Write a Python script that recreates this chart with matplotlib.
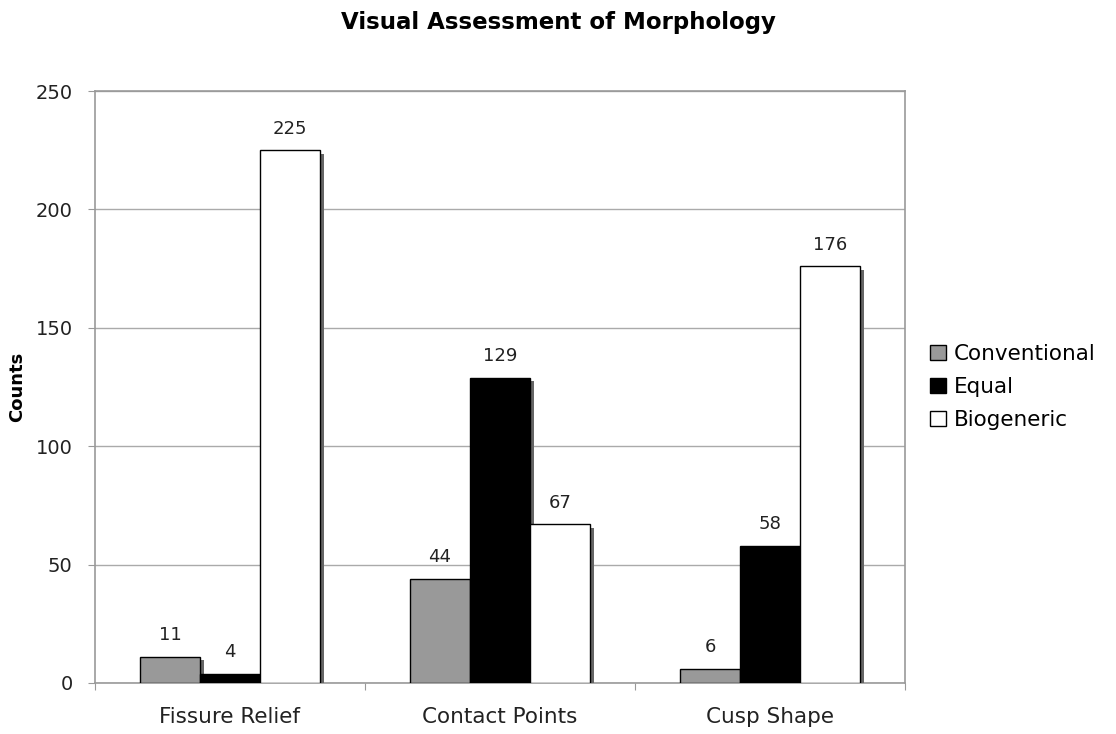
import matplotlib
matplotlib.use("Agg")
import matplotlib.pyplot as plt
import matplotlib.patheffects as pe
import numpy as np

categories = ["Fissure Relief", "Contact Points", "Cusp Shape"]
series = ["Conventional", "Equal", "Biogeneric"]
conventional = [11, 44, 6]
equal = [4, 129, 58]
biogeneric = [225, 67, 176]
colors = ["#999999", "#000000", "#ffffff"]

fig = plt.figure(figsize=(11.16, 7.34), dpi=100)
ax = fig.add_axes([0.0851, 0.0695, 0.7258, 0.8065])

x = np.arange(len(categories))
w = 0.222
shadow = [pe.SimplePatchShadow(offset=(3, -2.5), shadow_rgbFace="#666666", alpha=1.0), pe.Normal()]
for i, (vals, name) in enumerate(zip([conventional, equal, biogeneric], series)):
    bars = ax.bar(x + (i - 1) * w, vals, w, color=colors[i], edgecolor="black",
                  linewidth=1.0, label=name, zorder=3)
    for b in bars:
        b.set_path_effects(shadow)
    for xi, v in zip(x + (i - 1) * w, vals):
        ax.annotate(str(v), (xi, v), xytext=(0, 9), textcoords="offset points",
                    ha="center", va="bottom", fontsize=13, color="#222222")

ax.set_xlim(-0.5, 2.5)
ax.set_ylim(0, 250)
ax.set_yticks(np.arange(0, 251, 50))
ax.yaxis.grid(True, color="#aaaaaa", linewidth=1)
ax.set_axisbelow(True)

ax.set_xticks([-0.5, 0.5, 1.5, 2.5])
ax.set_xticklabels([])
ax.set_xticks(x, minor=True)
ax.set_xticklabels(categories, minor=True, fontsize=15.5, color="#222222")
ax.tick_params(axis="x", which="minor", length=0, pad=17)
ax.tick_params(axis="x", which="major", length=5, color="#999999")
ax.tick_params(axis="y", length=5, color="#999999", labelsize=14, labelcolor="#222222", pad=11)

for s in ax.spines.values():
    s.set_color("#999999")
    s.set_linewidth(1.2)

ax.set_ylabel("Counts", fontsize=13, fontweight="bold", labelpad=7)
fig.suptitle("Visual Assessment of Morphology", fontsize=16.5, fontweight="bold", y=0.985)

leg = ax.legend(loc="center left", bbox_to_anchor=(1.02, 0.5), frameon=False,
                fontsize=15.5, handlelength=0.75, handleheight=0.75, handletextpad=0.35,
                labelspacing=0.6, borderaxespad=0)
for h in leg.legend_handles:
    h.set_path_effects([])

fig.savefig("out.png", dpi=100)
